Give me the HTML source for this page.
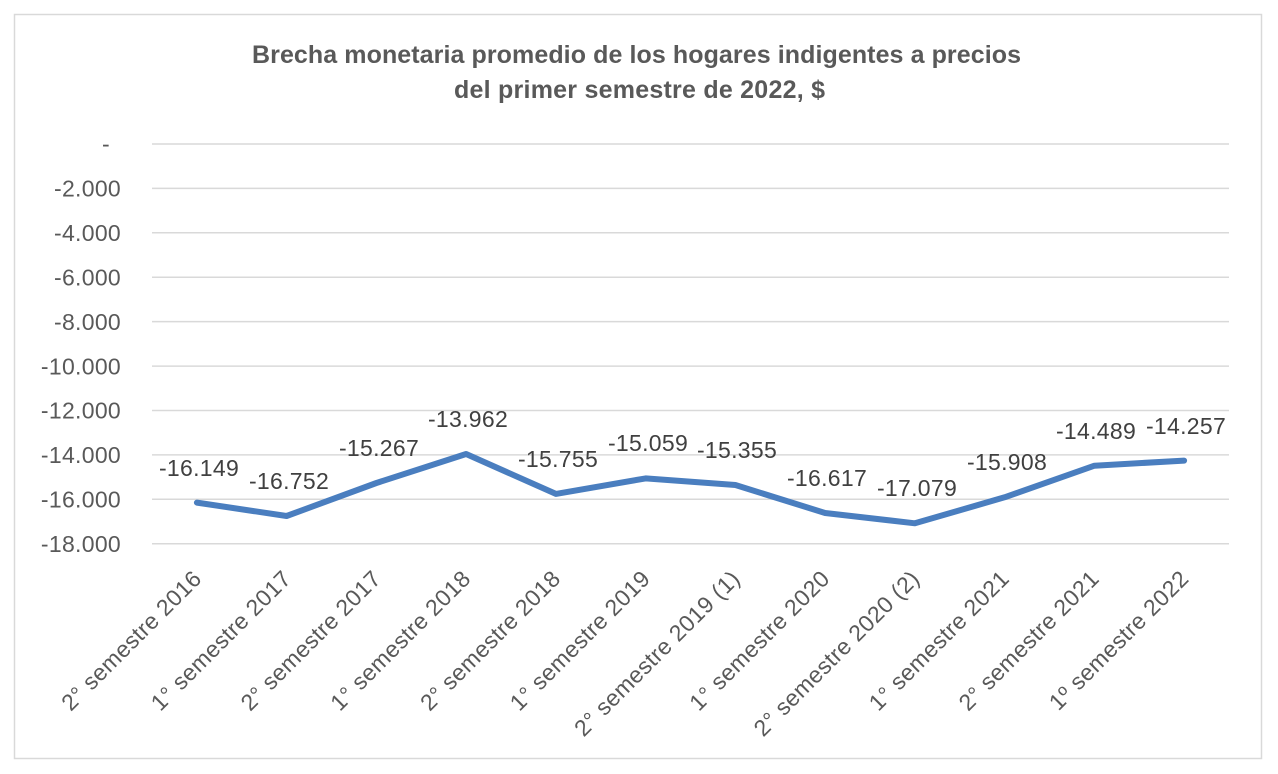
<!DOCTYPE html>
<html><head><meta charset="utf-8"><style>
html,body{margin:0;padding:0;background:#fff;}
svg{display:block;}
text{font-family:"Liberation Sans",sans-serif;}
</style></head><body>
<svg width="1278" height="774" viewBox="0 0 1278 774" xmlns="http://www.w3.org/2000/svg">
<rect x="0" y="0" width="1278" height="774" fill="#fff"/>
<rect x="14.5" y="14.5" width="1247" height="744" fill="#fff" stroke="#d9d9d9" stroke-width="1.5"/>
<g font-weight="bold" font-size="25" fill="#595959">
<text x="252" y="63" textLength="769" lengthAdjust="spacing">Brecha monetaria promedio de los hogares indigentes a precios</text>
<text x="454" y="98" textLength="371" lengthAdjust="spacing">del primer semestre de 2022, $</text>
</g>
<g stroke="#d9d9d9" stroke-width="1.5">
<line x1="152" x2="1229" y1="144" y2="144"/>
<line x1="152" x2="1229" y1="188.4" y2="188.4"/>
<line x1="152" x2="1229" y1="232.8" y2="232.8"/>
<line x1="152" x2="1229" y1="277.2" y2="277.2"/>
<line x1="152" x2="1229" y1="321.6" y2="321.6"/>
<line x1="152" x2="1229" y1="366.1" y2="366.1"/>
<line x1="152" x2="1229" y1="410.5" y2="410.5"/>
<line x1="152" x2="1229" y1="454.9" y2="454.9"/>
<line x1="152" x2="1229" y1="499.3" y2="499.3"/>
<line x1="152" x2="1229" y1="543.7" y2="543.7"/>
</g>
<g font-size="23" fill="#595959" text-anchor="end" letter-spacing="0.3">
<text x="110" y="152">-</text>
<text x="121" y="196.6">-2.000</text>
<text x="121" y="241">-4.000</text>
<text x="121" y="285.4">-6.000</text>
<text x="121" y="329.8">-8.000</text>
<text x="121" y="374.3">-10.000</text>
<text x="121" y="418.7">-12.000</text>
<text x="121" y="463.1">-14.000</text>
<text x="121" y="507.5">-16.000</text>
<text x="121" y="551.9">-18.000</text>
</g>
<polyline fill="none" stroke="#4a7ebf" stroke-width="6" stroke-linejoin="round" stroke-linecap="round"
points="196.9,502.6 286.6,516.0 376.4,483.0 466.1,454.0 555.9,493.9 645.6,478.4 735.4,485.0 825.1,513.0 914.9,523.3 1004.6,497.3 1094.4,465.7 1184.1,460.6"/>
<g font-size="23" fill="#404040" text-anchor="middle" letter-spacing="0.3">
<text x="199" y="476">-16.149</text>
<text x="289" y="489">-16.752</text>
<text x="379" y="456">-15.267</text>
<text x="468" y="427">-13.962</text>
<text x="558" y="467">-15.755</text>
<text x="648" y="451">-15.059</text>
<text x="737" y="458">-15.355</text>
<text x="827" y="486">-16.617</text>
<text x="917" y="496">-17.079</text>
<text x="1007" y="470">-15.908</text>
<text x="1096" y="439">-14.489</text>
<text x="1186" y="434">-14.257</text>
</g>
<g font-size="23" fill="#595959" text-anchor="end" letter-spacing="0.4">
<text transform="translate(203,580) rotate(-45)">2° semestre 2016</text>
<text transform="translate(292.6,580) rotate(-45)">1° semestre 2017</text>
<text transform="translate(382.4,580) rotate(-45)">2° semestre 2017</text>
<text transform="translate(472.1,580) rotate(-45)">1° semestre 2018</text>
<text transform="translate(561.9,580) rotate(-45)">2° semestre 2018</text>
<text transform="translate(651.6,580) rotate(-45)">1° semestre 2019</text>
<text transform="translate(741.4,580) rotate(-45)">2° semestre 2019 (1)</text>
<text transform="translate(831.1,580) rotate(-45)">1° semestre 2020</text>
<text transform="translate(920.9,580) rotate(-45)">2° semestre 2020 (2)</text>
<text transform="translate(1010.6,580) rotate(-45)">1° semestre 2021</text>
<text transform="translate(1100.4,580) rotate(-45)">2° semestre 2021</text>
<text transform="translate(1190.1,580) rotate(-45)">1º semestre 2022</text>
</g>
</svg>
</body></html>
